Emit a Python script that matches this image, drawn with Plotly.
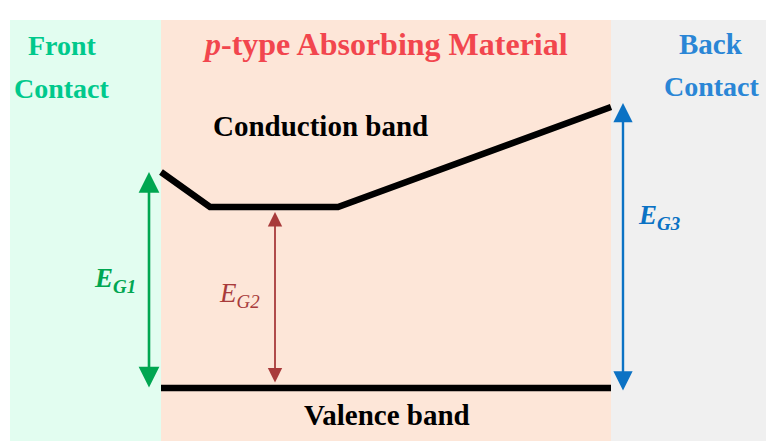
import plotly.graph_objects as go

# diagram coordinates (pixel-like units, y grows downward)
region_names = ["front", "absorber", "back"]
region_x0 = [10, 161, 611]
region_x1 = [161, 611, 766]
region_top = 20
region_bottom = 441
region_fill = ["#E2FDF0", "#FDE6D8", "#F0F0F0"]

cb_x = [161, 210, 338, 611]
cb_y = [172, 207, 207, 107]
vb_x = [161, 611]
vb_y = [388, 388]

# gap arrows: x, top, bottom
gap_names = ["G1", "G2", "G3"]
gap_x = [149, 275, 623]
gap_top = [172, 212, 103]
gap_bot = [389, 384, 392]
gap_col = ["#00A651", "#A83B3B", "#0B72C4"]
gap_w = [2.6, 1.8, 2.4]

serif = "Palatino Linotype, Book Antiqua, Liberation Serif, serif"

fig = go.Figure()

for i in range(len(region_names)):
    fig.add_shape(type="rect", x0=region_x0[i], x1=region_x1[i], y0=region_top, y1=region_bottom,
                  fillcolor=region_fill[i], line_width=0, layer="below")

fig.add_trace(go.Scatter(x=cb_x, y=cb_y, mode="lines", line=dict(color="black", width=6.5),
                         hoverinfo="skip"))
fig.add_trace(go.Scatter(x=vb_x, y=vb_y, mode="lines", line=dict(color="black", width=6.5),
                         hoverinfo="skip"))

for i in range(len(gap_names)):
    fig.add_annotation(x=gap_x[i], y=gap_top[i], ax=gap_x[i], ay=gap_bot[i],
                       xref="x", yref="y", axref="x", ayref="y", text="",
                       showarrow=True, arrowhead=2, startarrowhead=2, arrowside="end+start",
                       arrowsize=1.6, startarrowsize=1.6,
                       arrowwidth=gap_w[i], arrowcolor=gap_col[i])

def label(x, y, txt, color, size, bold=True):
    fig.add_annotation(x=x, y=y, xref="x", yref="y", text=("<b>%s</b>" % txt) if bold else txt,
                       showarrow=False, font=dict(family=serif, size=size, color=color))

label(62, 45, "Front", "#00C98C", 28)
label(62, 88, "Contact", "#00C98C", 28)
label(385, 44, "<i>p</i>-type Absorbing Material", "#F2464E", 32)
label(711, 44, "Back", "#2A86D6", 29)
label(712, 86, "Contact", "#2A86D6", 28)
label(320, 126, "Conduction band", "black", 29)
label(387, 415, "Valence band", "black", 29)
label(115, 280, "<i>E</i><sub><i>G1</i></sub>", gap_col[0], 27)
label(239, 295, "<i>E</i><sub><i>G2</i></sub>", gap_col[1], 27, bold=False)
label(659, 217, "<i>E</i><sub><i>G3</i></sub>", gap_col[2], 27)

fig.update_layout(width=766, height=441, margin=dict(l=0, r=0, t=0, b=0),
                  paper_bgcolor="white", plot_bgcolor="white", showlegend=False,
                  xaxis=dict(range=[0, 766], visible=False, fixedrange=True),
                  yaxis=dict(range=[441, 0], visible=False, fixedrange=True))

# drop the default page margin so the figure fills the window, and hide the modebar
fig.write_html("out.html", config={"displayModeBar": False},
               post_script="document.body.style.margin='0';document.body.style.overflow='hidden';")
